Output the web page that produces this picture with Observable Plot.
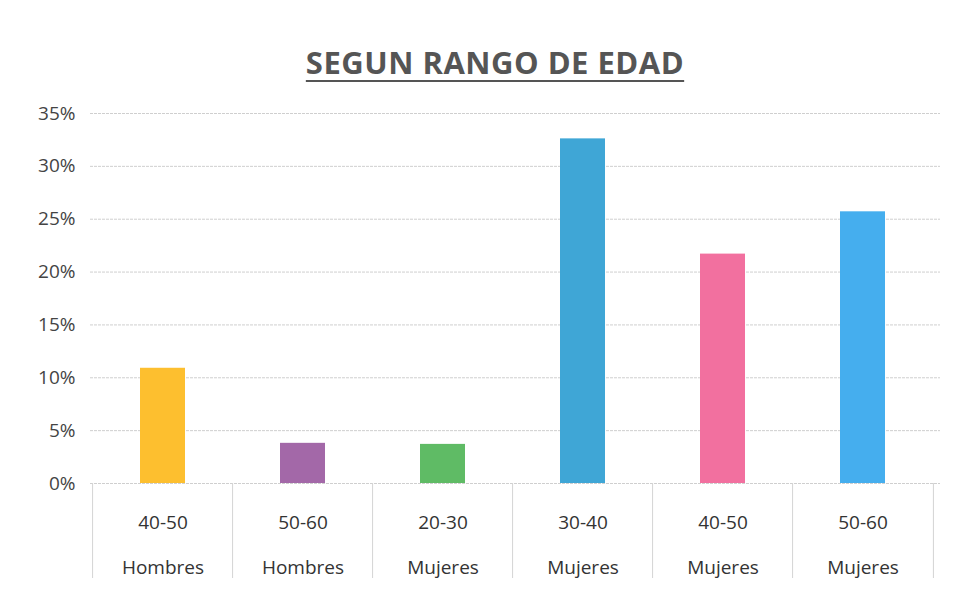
<!DOCTYPE html>
<html>
<head>
<meta charset="utf-8">
<script src="https://cdn.jsdelivr.net/npm/d3@7"></script>
<script src="https://cdn.jsdelivr.net/npm/@observablehq/plot@0.6"></script>
<style>
  body { margin: 0; background: #fff; font-family: "Open Sans", "Liberation Sans", sans-serif; }
  #wrap { width: 958px; height: 597px; position: relative; }
  #title { position: absolute; top: 41px; left: 0; width: 990px; text-align: center;
           font-family: "Open Sans", sans-serif; font-weight: 700; font-size: 31px; color: #555;
           letter-spacing: 0.5px; }
  #title span { text-decoration: underline; text-decoration-thickness: 2px; text-underline-offset: 6px; }
  #chart { position: absolute; top: 95px; left: 0; }
</style>
</head>
<body>
<div id="wrap">
  <div id="title"><span>SEGUN RANGO DE EDAD</span></div>
  <div id="chart"></div>
</div>
<script>
const ranges = ["40-50", "50-60", "20-30", "30-40", "40-50", "50-60"];
const groups = ["Hombres", "Hombres", "Mujeres", "Mujeres", "Mujeres", "Mujeres"];
const values = [10.9, 3.8, 3.7, 32.6, 21.7, 25.7];
const colors = ["#FDBF2F", "#A368A8", "#5FBB65", "#3FA6D6", "#F2709F", "#45AEEE"];
const yTicks = [0, 5, 10, 15, 20, 25, 30, 35];

const data = ranges.map((r, i) => ({
  key: r + "\n" + groups[i],
  value: values[i],
  color: colors[i]
}));
const keys = data.map(d => d.key);

const width = 958, marginLeft = 90, marginRight = 23;
const step = (width - marginLeft - marginRight) / 6;

const plot = Plot.plot({
  width,
  height: 488,
  marginTop: 18,
  marginBottom: 100,
  marginLeft,
  marginRight,
  style: { fontFamily: "'Open Sans', sans-serif", background: "transparent", overflow: "visible" },
  x: { domain: keys, paddingInner: 0.68, paddingOuter: 0.34, axis: null },
  y: { domain: [0, 35], ticks: yTicks, axis: null },
  marks: [
    Plot.gridY(yTicks, { stroke: "#cfcfcf", strokeOpacity: 1, strokeDasharray: "3,1", insetRight: -5 }),
    Plot.axisY(yTicks, {
      tickSize: 0, tickPadding: 15, fontSize: 19, fill: "#444", label: null,
      tickFormat: d => d + "%"
    }),
    Plot.ruleX(keys, { x: d => d, dx: -step / 2, stroke: "#d4d4d4", insetTop: 370, insetBottom: -95 }),
    Plot.ruleX([keys[keys.length - 1]], { x: d => d, dx: step / 2, stroke: "#d4d4d4", insetTop: 370, insetBottom: -95 }),
    Plot.barY(data, { x: "key", y: "value", fill: "color" }),
    Plot.axisX(keys, {
      tickSize: 0, tickPadding: 14, fontSize: 19, fill: "#333",
      lineHeight: 2.35, label: null
    })
  ]
});
document.getElementById("chart").appendChild(plot);
</script>
</body>
</html>
